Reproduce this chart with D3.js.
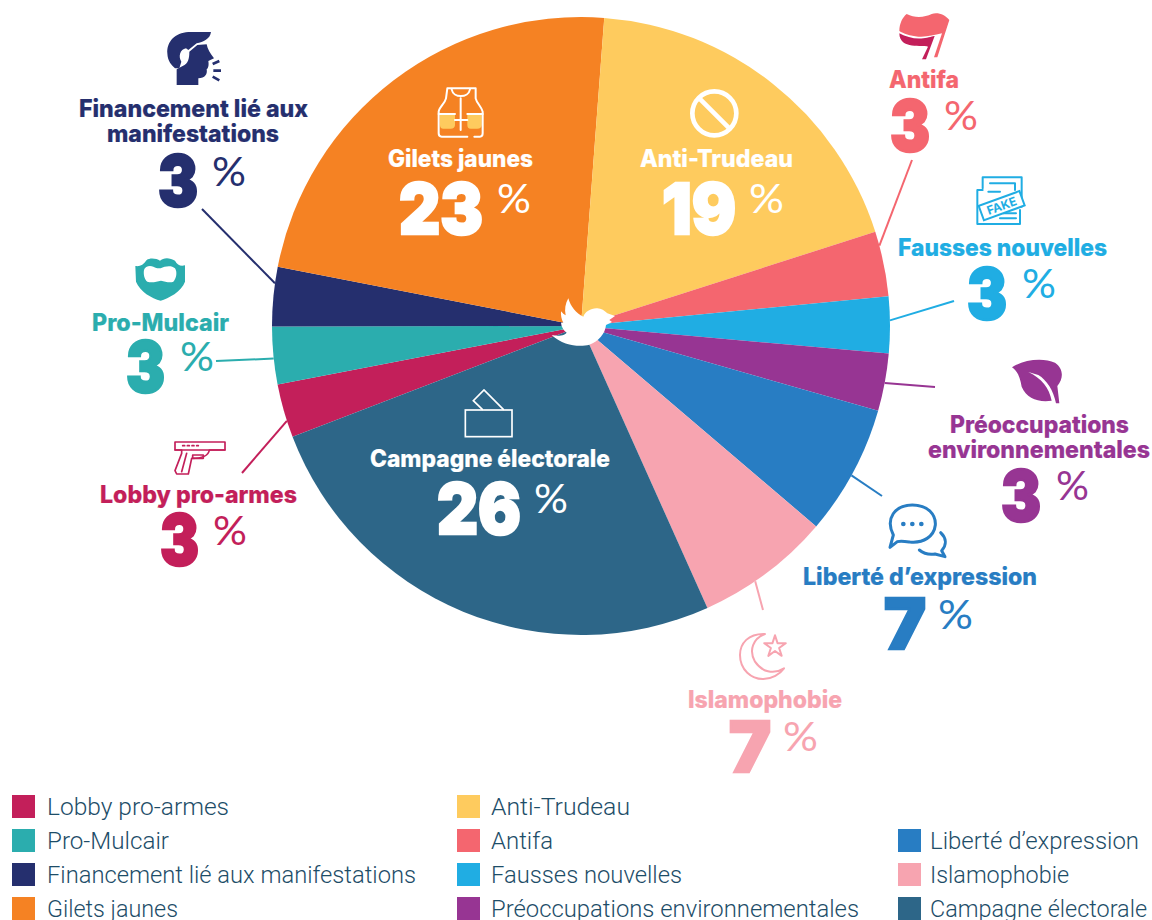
<!DOCTYPE html>
<html>
<head>
	<meta charset="utf-8">
	<title>Tweets - thèmes</title>
	<script src="https://d3js.org/d3.v7.min.js"></script>
	<style type="text/css">
		html, body { margin: 0; padding: 0; background: #fff; overflow: hidden; }
		.title { font-family: 'Inter', sans-serif; font-weight: 800; font-size: 24px; stroke-width: .2px; }
		.big { font-family: 'Inter', sans-serif; font-weight: 900; font-size: 70px; stroke-width: 2.5px; stroke-linejoin: miter; }
		.pct { font-family: 'Lato', sans-serif; font-weight: 400; font-size: 41px; stroke-width: 0; }
		.legend-label { font-family: 'Roboto', sans-serif; font-weight: 300; font-size: 24px; fill: #1d4d68; }
	</style>
</head>
<body>
<div id="svgDiv"></div>
<script type="text/javascript">

// chart data, in legend order (which is also the clockwise order of the slices)
var categories = ["Lobby pro-armes", "Pro-Mulcair", "Financement lié aux manifestations", "Gilets jaunes",
	"Anti-Trudeau", "Antifa", "Fausses nouvelles", "Préoccupations environnementales",
	"Liberté d’expression", "Islamophobie", "Campagne électorale"];
// slice sizes
var shares = [2.8, 3.0, 3.1, 23.1, 18.85, 3.4, 2.95, 3.0, 6.8, 7.05, 25.85];
// rounded numbers printed beside the slices
var printed = ["3", "3", "3", "23", "19", "3", "3", "3", "7", "7", "26"];
var colors = ["#c31f5a", "#2badae", "#252f6e", "#f58223", "#fecb5e", "#f4666f", "#20ade3", "#973593", "#287dc3", "#f7a4b0", "#2d6688"];
var titleLines = [["Lobby pro-armes"], ["Pro-Mulcair"], ["Financement lié aux", "manifestations"], ["Gilets jaunes"],
	["Anti-Trudeau"], ["Antifa"], ["Fausses nouvelles"], ["Préoccupations", "environnementales"],
	["Liberté d’expression"], ["Islamophobie"], ["Campagne électorale"]];

var width = 1152, height = 920;
var cx = 581, cy = 326, radius = 309;
var startDeg = 249;

// label placement: [x0, x1, baseline] per title line, number box, % box, leader
var labels = [
	{ fill: null, lines: [[100, 297, 503]], num: [160, 199, 565], pct: [213, 247, 545], leader: [242, 473], at: .31 },
	{ fill: null, lines: [[92, 229, 331]], num: [126, 165, 392], pct: [180, 214, 371], leader: [216, 361], at: .45 },
	{ fill: null, lines: [[79, 308, 117], [107, 279, 142]], num: [158, 198, 206], pct: [212, 246, 186], leader: [202, 209], at: .72 },
	{ fill: "#fff", lines: [[388, 533, 167]], num: [399, 483, 234], pct: [497, 531, 213] },
	{ fill: "#fff", lines: [[640, 793, 167]], num: [662, 736, 234], pct: [749, 784, 213] },
	{ fill: null, lines: [[889, 959, 88]], num: [890, 930, 151], pct: [944, 978, 130], leader: [912, 160], at: .22 },
	{ fill: null, lines: [[898, 1107, 256]], num: [967, 1007, 319], pct: [1022, 1056, 298], leader: [954, 301], at: .42 },
	{ fill: null, lines: [[950, 1129, 433], [928, 1150, 458]], num: [1001, 1041, 521], pct: [1056, 1089, 500], leader: [935, 387], at: .51 },
	{ fill: null, lines: [[803, 1037, 585]], num: [884, 926, 649], pct: [938, 973, 629], leader: [882, 496], at: .53 },
	{ fill: null, lines: [[688, 842, 708]], num: [729, 771, 772], pct: [783, 818, 751], leader: [763, 610], at: .6 },
	{ fill: "#fff", lines: [[370, 610, 467]], num: [437, 521, 534], pct: [534, 568, 513] }
];

var svg = d3.select("#svgDiv").append("svg")
	.attr("width", width)
	.attr("height", height)
	.style("display", "block");

// pie
var pie = d3.pie().sort(null)
	.startAngle(startDeg * Math.PI / 180)
	.endAngle((startDeg + 360) * Math.PI / 180);
var arcs = pie(shares);
var arc = d3.arc().innerRadius(0).outerRadius(radius);

var pieG = svg.append("g").attr("transform", "translate(" + cx + "," + cy + ")");
pieG.selectAll("path")
	.data(arcs).enter()
	.append("path")
	.attr("d", arc)
	.attr("fill", function (d, i) { return colors[i]; });

// leaders, from the rim of each slice out to its label
arcs.forEach(function (d, i) {
	var l = labels[i];
	if (!l.leader) return;
	var a = d.startAngle + (d.endAngle - d.startAngle) * l.at;
	svg.append("line")
		.attr("x1", l.leader[0]).attr("y1", l.leader[1])
		.attr("x2", cx + Math.sin(a) * radius).attr("y2", cy - Math.cos(a) * radius)
		.attr("stroke", colors[i])
		.attr("stroke-width", 2);
});

// text squeezed into a given horizontal span
function fitted(cls, str, box, fill) {
	return svg.append("text")
		.attr("class", cls)
		.attr("x", box[0])
		.attr("y", box[2])
		.attr("fill", fill)
		.attr("stroke", fill)
		.attr("textLength", box[1] - box[0])
		.attr("lengthAdjust", "spacingAndGlyphs")
		.text(str);
}

labels.forEach(function (l, i) {
	var c = l.fill || colors[i];
	l.lines.forEach(function (box, j) { fitted("title", titleLines[i][j], box, c); });
	fitted("big", printed[i], l.num, c);
	fitted("pct", "%", l.pct, c);
});

// icons, drawn in the coordinates of a 3x crop of the picture
function icon(ox, oy) {
	return svg.append("g").attr("transform", "translate(" + ox + "," + oy + ") scale(" + (1 / 3) + ")");
}
function strokeG(g, c, w) {
	return g.append("g").attr("fill", "none").attr("stroke", c).attr("stroke-width", w)
		.attr("stroke-linejoin", "round").attr("stroke-linecap", "round");
}

// twitter bird in the middle
icon(500, 270).append("path")
	.attr("fill", "#fff")
	.attr("d", "M205,85 C212,110 228,130 250,140 C256,125 272,114 292,115 C304,116 314,122 322,130 L345,138 L328,150 L336,156 L318,165 C316,190 296,215 268,224 C240,232 190,228 155,195 C168,198 182,198 192,194 C196,192 198,190 200,188 C190,180 184,170 183,158 L190,158 C184,148 182,135 183,124 C188,130 192,133 197,136 C193,118 196,100 205,85Z");

// head
var g = icon(60, 0);
g.append("path").attr("fill", colors[2]).attr("d", "M453,96 H385 C345,98 320,125 322,160 C323,185 335,195 345,205 L358,205 L364,185 C354,170 360,148 378,145 L385,150 L410,130 C430,125 450,118 453,96Z");
g.append("path").attr("fill", colors[2]).attr("d", "M388,155 L412,135 L440,133 C442,145 450,160 462,175 L445,183 C447,195 445,205 440,208 C443,222 435,235 415,235 L415,255 H350 V208 L368,198 C385,190 388,175 388,155Z");
var s = strokeG(g, colors[2], 8).attr("stroke-linecap", "butt");
s.append("path").attr("d", "M458,192 L478,183 M460,212 H483 M458,230 L478,241");

// flag
g = icon(860, 0);
g.append("path").attr("fill", colors[0]).attr("d", "M118,100 C140,112 165,118 190,115 C205,113 220,108 224,108 L198,178 H186 L204,140 C190,135 118,150 118,100Z");
g.append("path").attr("fill", colors[5]).attr("d", "M140,42 C165,55 195,52 215,42 C235,36 255,45 268,60 L232,172 L222,172 L246,100 C220,105 200,112 175,110 C150,108 130,100 118,93 C118,70 128,52 140,42Z");

// fake newspaper
g = icon(860, 0);
s = strokeG(g, colors[6], 6);
s.append("path").attr("d", "M368,565 V532 H485 V620 M368,570 H352 V672 H480 V630");
s.append("path").attr("d", "M390,550 H465 V570 M385,575 H420 M430,640 H468 M420,655 H468");
g.append("g").attr("transform", "translate(425,617) rotate(-20)")
	.call(function (t) {
		t.append("rect").attr("x", -65).attr("y", -23).attr("width", 130).attr("height", 46)
			.attr("fill", "#fff").attr("stroke", colors[6]).attr("stroke-width", 6);
		t.append("text").attr("text-anchor", "middle").attr("y", 13)
			.attr("font-family", "Inter, sans-serif").attr("font-weight", 700).attr("font-size", 36)
			.attr("fill", colors[6]).text("FAKE");
	});

// leaf
g = icon(1000, 350);
g.append("path").attr("fill", colors[7]).attr("fill-rule", "evenodd")
	.attr("d", "M36,52 C70,28 130,22 165,38 C190,55 192,85 172,108 L178,160 L168,160 C160,120 140,90 115,75 L85,66 C125,85 148,115 155,152 C115,158 80,145 65,110 C60,85 55,65 36,52Z");

// speech bubbles
g = icon(660, 480);
s = strokeG(g, colors[8], 9);
s.append("path").attr("d", "M700,165 C675,115 705,75 757,75 C805,75 828,105 826,135 C822,170 790,190 750,186 C735,184 722,182 712,185 L690,202 Z");
s.append("path").attr("d", "M842,158 C860,175 860,195 845,212 L855,230 L825,222 C805,225 790,220 778,210");
g.append("g").selectAll("circle").data([730, 757, 784]).enter().append("circle")
	.attr("cx", function (d) { return d; }).attr("cy", 132).attr("r", 7).attr("fill", colors[8]);

// crescent and star
g = icon(660, 480);
s = strokeG(g, colors[9], 6);
s.append("path").attr("d", "M315,462 C265,460 240,490 240,525 C240,570 275,598 310,597 C335,597 360,582 372,565 C340,585 305,575 285,545 C265,510 280,475 315,462Z");
s.append("path").attr("transform", "translate(345,500)").attr("d", d3.symbol().type(d3.symbolStar).size(1300)());

// beard
g = icon(60, 240);
g.append("path").attr("fill", colors[1]).attr("fill-rule", "evenodd")
	.attr("d", "M226,78 C240,80 250,75 260,60 C270,52 290,55 300,62 C310,52 330,52 345,62 C352,75 362,80 375,76 L375,125 C365,155 325,175 302,182 C275,175 240,155 228,125Z M252,90 C255,78 270,75 280,80 C290,85 295,85 302,85 C315,78 335,75 345,85 C352,95 350,115 340,125 C330,130 315,125 303,122 C290,125 275,130 262,125 C252,118 250,100 252,90Z");

// gun
s = strokeG(icon(60, 240), colors[0], 5);
s.append("path").attr("d", "M345,606 H495 V630 H448 C445,652 420,655 395,655 L385,702 H350 L345,692 L365,640 V630 H345 Z");
s.append("path").attr("d", "M345,630 H495 M380,640 L365,695 M398,645 H430 V655 H398 Z");
s.append("path").attr("stroke-dasharray", "6 8").attr("d", "M368,617 H415");

// vest
g = icon(360, 70);
g.append("path").attr("fill", colors[4]).attr("d", "M240,135 L285,135 V165 C285,172 280,176 272,176 H250 C243,176 240,172 240,165Z M322,135 H365 V165 C365,172 360,176 352,176 H332 C325,176 322,172 322,165Z");
s = strokeG(g, "#fff", 6);
s.append("path").attr("d", "M262,55 L258,85 C255,100 238,110 236,125 V190 C236,197 240,200 245,200 H322 M343,200 H360 C365,200 368,197 368,190 V125 C365,110 350,100 347,85 L347,55 H262");
s.append("path").attr("d", "M275,58 C280,85 325,85 330,58 M302,85 V180 M285,150 H322 M236,132 H285 M322,132 H368");

// forbidden sign
g = icon(360, 70);
s = strokeG(g, "#fff", 14).attr("stroke-linecap", "butt");
s.append("circle").attr("cx", 1063).attr("cy", 130).attr("r", 66);
s.append("path").attr("d", "M1018,85 L1108,175");

// ballot box
g = icon(350, 370);
s = strokeG(g, "#fff", 5).attr("stroke-linejoin", "miter");
s.append("rect").attr("x", 346).attr("y", 120).attr("width", 140).attr("height", 80);
s.append("path").attr("d", "M397,118 L370,92 L402,60 L460,118");

// legend: three columns, the last one starts on the second row
var legendCols = [[12, 47, 0], [457, 491, 0], [898, 930, 1]];
var legendCut = [0, 4, 8, 11];
var legendEnds = [229, 169, 416, 178, 630, 553, 682, 859, 1139, 1069, 1147];
var rowStep = 34, firstRow = 795, swatch = 23;

var legend = svg.append("g");
legendCols.forEach(function (col, c) {
	d3.range(legendCut[c], legendCut[c + 1]).forEach(function (i, k) {
		var y = firstRow + (k + col[2]) * rowStep;
		legend.append("rect")
			.attr("x", col[0]).attr("y", y)
			.attr("width", swatch).attr("height", swatch)
			.attr("fill", colors[i]);
		legend.append("text")
			.attr("class", "legend-label")
			.attr("x", col[1]).attr("y", y + 20)
			.attr("textLength", legendEnds[i] - col[1])
			.attr("lengthAdjust", "spacingAndGlyphs")
			.text(categories[i]);
	});
});

</script>
</body>
</html>
